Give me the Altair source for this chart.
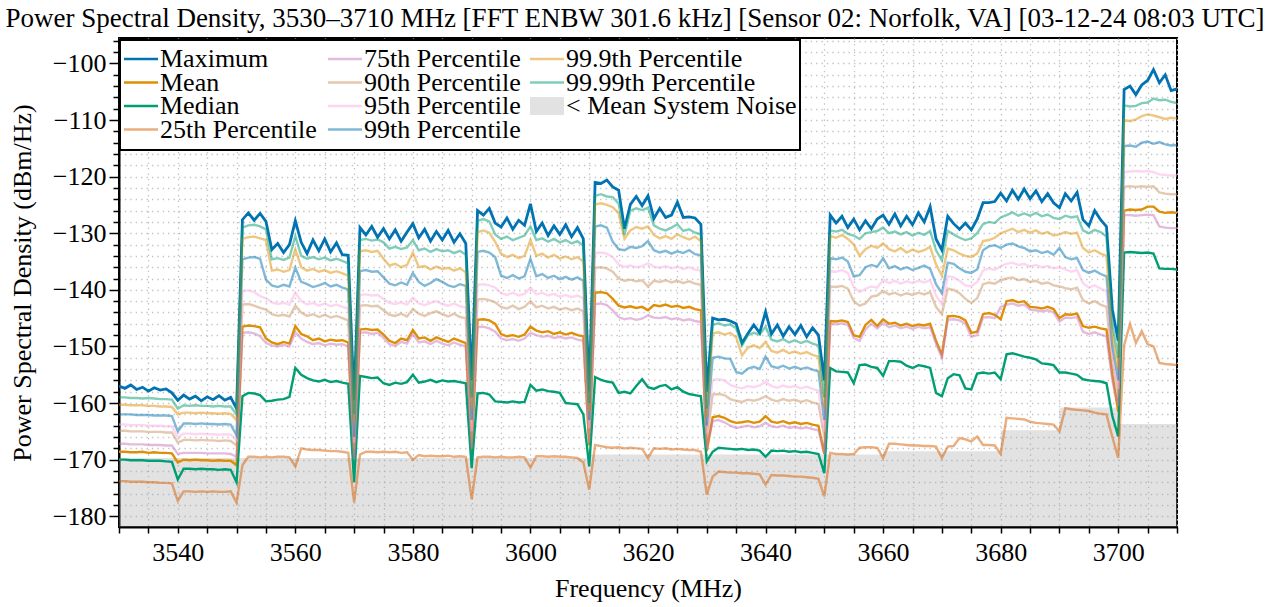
import altair as alt
import pandas as pd

# ---------------------------------------------------------------------------
# Spectrum statistics on a 1 MHz grid, 3530-3710 MHz (dBm/Hz)
# ---------------------------------------------------------------------------
FREQ_START_MHZ = 3530
FREQ_STOP_MHZ = 3710
freq_mhz = list(range(FREQ_START_MHZ, FREQ_STOP_MHZ + 1))

maximum = [
    -157.0, -157.4, -156.8, -157.6, -157.2, -157.9, -157.3, -157.7, -157.5, -158.2,
    -159.5, -158.6, -159.3, -158.8, -159.6, -158.9, -159.4, -158.7, -159.5, -159.0,
    -161.0, -127.6, -126.4, -127.7, -126.5, -127.9, -132.9, -131.8, -133.4, -132.0,
    -127.8, -131.6, -133.6, -131.2, -133.1, -131.0, -133.3, -131.7, -133.8, -133.9,
    -159.5, -129.0, -130.3, -128.8, -130.7, -129.2, -131.0, -129.4, -131.4, -129.8,
    -128.3, -130.8, -129.3, -131.4, -129.7, -131.2, -129.5, -131.6, -130.1, -131.8,
    -156.0, -126.0, -126.8, -125.6, -128.2, -128.9, -127.3, -129.3, -127.7, -128.6,
    -124.8, -129.7, -128.2, -130.4, -128.7, -130.2, -128.5, -130.6, -129.0, -131.0,
    -158.0, -121.0, -121.2, -120.6, -121.8, -122.4, -129.2, -124.9, -123.5, -125.1,
    -123.4, -127.4, -125.6, -127.2, -126.8, -124.5, -127.2, -127.1, -127.3, -128.4,
    -158.0, -145.0, -145.3, -145.2, -145.5, -146.0, -149.4, -147.7, -146.2, -147.6,
    -143.9, -147.8, -146.2, -148.2, -146.5, -147.9, -146.3, -148.3, -146.7, -148.0,
    -156.0, -126.8, -128.2, -127.0, -129.0, -127.5, -129.4, -127.8, -129.2, -127.5,
    -126.8, -128.4, -126.6, -128.7, -127.0, -128.5, -126.4, -128.0, -125.3, -131.0,
    -133.0, -127.0, -128.3, -129.3, -128.2, -129.4, -127.5, -124.6, -124.6, -124.4,
    -122.9, -124.3, -122.4, -124.0, -122.2, -123.9, -122.5, -124.4, -123.0, -124.6,
    -125.5, -123.0, -124.3, -122.8, -127.6, -128.7, -126.0, -127.6, -128.8, -143.5,
    -149.0, -104.6, -104.0, -105.5, -103.8, -103.0, -101.1, -103.4, -102.0, -104.8,
    -104.5,
]

mean = [
    -168.6, -168.6, -168.7, -168.7, -168.6, -168.8, -168.7, -168.8, -168.8, -168.9,
    -170.5, -170.0, -170.1, -170.0, -170.1, -170.1, -170.2, -170.1, -170.2, -170.2,
    -171.0, -146.5, -146.3, -146.4, -146.6, -148.6, -149.3, -149.6, -149.2, -149.5,
    -146.4, -147.8, -148.2, -148.9, -148.6, -149.1, -148.8, -149.0, -148.9, -149.3,
    -171.0, -147.0, -146.9, -147.1, -147.0, -147.9, -149.0, -149.4, -148.6, -148.9,
    -147.1, -148.6, -148.4, -149.0, -148.4, -148.8, -149.2, -148.6, -149.0, -149.4,
    -169.0, -145.3, -145.2, -145.4, -146.0, -147.8, -148.2, -148.0, -148.3, -147.9,
    -146.5, -147.2, -147.5, -147.3, -147.8, -147.5, -147.9, -147.6, -148.0, -148.2,
    -167.5, -140.5, -140.4, -140.6, -141.6, -142.8, -143.1, -142.9, -143.2, -143.0,
    -143.6, -142.7, -142.9, -142.6, -143.0, -142.8, -143.2, -143.0, -143.4, -143.6,
    -168.5, -162.5, -162.3, -162.6, -163.2, -163.5, -163.4, -163.2, -163.5, -163.3,
    -162.3, -163.3, -163.5, -163.2, -163.6, -163.4, -163.7, -163.5, -163.8, -164.0,
    -169.0, -145.5, -145.6, -145.4, -145.7, -148.0, -148.3, -146.2, -145.3, -146.4,
    -145.2, -146.0, -145.8, -146.3, -146.0, -146.4, -146.1, -146.3, -146.0, -149.0,
    -151.5, -144.7, -144.6, -144.8, -145.4, -147.6, -147.4, -144.3, -144.1, -144.4,
    -145.2, -142.0, -141.8, -142.2, -142.0, -143.0, -143.1, -143.3, -143.0, -143.4,
    -145.0, -144.3, -144.4, -144.2, -146.4, -146.7, -146.5, -146.8, -147.0, -155.0,
    -161.5, -126.0, -125.8, -125.9, -125.8, -125.3, -125.3, -126.2, -126.4, -126.3,
    -126.4,
]

median = [
    -170.0, -170.0, -170.1, -170.1, -170.1, -170.2, -170.2, -170.2, -170.3, -170.4,
    -173.5, -171.6, -171.6, -171.7, -171.6, -171.7, -171.7, -171.8, -171.7, -171.8,
    -174.0, -158.8, -158.2, -158.3, -158.6, -159.7, -159.6, -159.4, -159.3, -158.9,
    -153.8, -155.0, -155.6, -156.0, -156.2, -155.9, -156.3, -156.1, -156.4, -156.6,
    -174.0, -155.2, -155.4, -155.6, -155.5, -156.5, -156.8, -156.4, -156.6, -156.3,
    -155.0, -156.4, -156.2, -155.9, -156.3, -156.0, -156.2, -156.1, -156.3, -156.5,
    -171.5, -158.3, -158.2, -158.5, -159.7, -159.8, -159.9, -159.7, -159.9, -159.8,
    -156.8, -157.8, -157.6, -157.9, -158.0, -158.2, -160.0, -160.1, -160.2, -162.0,
    -171.2, -155.4, -155.9, -156.2, -156.4, -158.2, -158.0, -158.3, -157.0, -155.8,
    -157.2, -157.5, -157.0, -156.8, -157.6, -157.2, -158.0, -158.4, -158.6, -158.8,
    -170.3, -168.6, -167.9, -168.0, -168.1, -168.2, -168.1, -168.3, -168.2, -168.4,
    -169.5, -168.4, -168.5, -168.4, -168.6, -168.5, -168.7, -168.6, -168.8, -169.0,
    -172.4, -153.8, -154.4, -154.5, -154.6, -156.5, -153.3, -153.2, -153.6, -153.8,
    -155.2, -152.6, -152.6, -152.7, -153.4, -153.8, -153.3, -153.5, -153.8, -158.2,
    -158.8, -155.6, -154.9, -155.1, -157.4, -157.6, -154.8, -154.6, -154.8, -154.6,
    -155.8, -151.4, -151.2, -151.5, -151.8, -152.0, -152.3, -153.0, -153.1, -153.3,
    -154.6, -154.6, -154.8, -155.0, -155.8, -156.0, -156.1, -156.2, -156.5, -162.3,
    -165.9, -133.4, -133.3, -133.4, -133.5, -133.4, -133.6, -136.2, -136.3, -136.3,
    -136.4,
]

pct_25 = [
    -173.8, -173.8, -173.9, -173.9, -173.9, -174.0, -174.0, -174.1, -174.1, -174.2,
    -177.3, -175.6, -175.6, -175.7, -175.6, -175.7, -175.6, -175.7, -175.7, -175.6,
    -177.6, -171.0, -169.5, -169.5, -169.6, -169.5, -169.6, -169.5, -169.5, -169.6,
    -171.2, -168.0, -168.2, -168.3, -168.3, -168.4, -168.5, -168.5, -168.6, -168.8,
    -177.6, -169.1, -168.6, -168.6, -168.7, -168.6, -168.7, -168.6, -168.8, -168.7,
    -170.0, -169.2, -169.4, -169.3, -169.4, -169.4, -169.3, -169.5, -169.4, -169.5,
    -177.0, -169.6, -169.5, -169.5, -169.6, -169.5, -169.6, -169.6, -169.5, -169.6,
    -171.4, -169.4, -169.4, -169.5, -169.4, -169.5, -169.5, -169.6, -169.7, -170.5,
    -175.3, -167.4, -167.6, -167.8, -167.9, -167.8, -168.0, -167.9, -168.0, -168.1,
    -169.7, -168.0, -168.1, -168.0, -168.2, -168.1, -168.2, -168.3, -168.3, -168.6,
    -176.2, -173.0, -172.1, -172.2, -172.3, -172.3, -172.4, -172.4, -172.5, -172.6,
    -174.4, -172.7, -172.8, -172.8, -172.9, -173.0, -173.0, -173.1, -173.2, -173.4,
    -176.5, -168.8, -169.0, -169.0, -169.1, -169.0, -167.9, -167.8, -167.8, -167.9,
    -169.7, -167.2, -167.2, -167.3, -167.4, -167.5, -167.5, -167.6, -167.6, -167.7,
    -169.7, -167.7, -167.6, -166.2, -166.4, -166.8, -165.9, -167.4, -167.4, -167.5,
    -169.0, -162.6, -162.7, -162.8, -162.9, -163.3, -163.5, -163.6, -163.7, -163.8,
    -165.0, -160.9, -161.1, -161.2, -161.3, -161.4, -161.7, -161.9, -162.0, -166.0,
    -169.7, -149.8, -146.0, -149.4, -147.3, -149.6, -150.0, -152.9, -153.1, -153.2,
    -153.3,
]

pct_75 = [
    -167.2, -167.2, -167.3, -167.3, -167.3, -167.4, -167.4, -167.4, -167.5, -167.5,
    -169.0, -168.8, -168.8, -168.8, -168.8, -168.9, -168.9, -168.9, -168.9, -169.0,
    -169.5, -147.6, -147.5, -147.7, -148.2, -149.4, -149.8, -150.0, -149.7, -150.0,
    -147.5, -148.6, -149.2, -149.6, -149.4, -149.8, -149.5, -149.7, -149.6, -150.0,
    -170.0, -147.6, -147.5, -147.8, -147.6, -148.5, -149.6, -149.9, -149.2, -149.5,
    -147.8, -149.3, -149.1, -149.6, -149.0, -149.5, -149.8, -149.3, -149.7, -150.0,
    -168.0, -146.6, -146.5, -146.8, -147.4, -148.6, -148.9, -148.7, -149.0, -148.6,
    -147.6, -148.0, -148.3, -148.1, -148.5, -148.3, -148.6, -148.4, -148.8, -149.0,
    -167.0, -142.5, -142.4, -142.7, -143.6, -144.8, -145.2, -145.0, -145.3, -145.1,
    -144.5, -144.9, -145.0, -144.8, -145.2, -145.0, -145.4, -145.2, -145.5, -145.7,
    -168.0, -163.2, -163.0, -163.4, -164.0, -164.4, -164.2, -164.0, -164.3, -164.1,
    -163.5, -164.1, -164.3, -164.0, -164.4, -164.2, -164.5, -164.3, -164.6, -164.8,
    -169.0, -146.0, -146.1, -145.9, -146.2, -148.5, -149.0, -147.0, -146.0, -146.8,
    -145.8, -146.6, -146.3, -146.8, -146.5, -146.9, -146.5, -146.8, -146.6, -149.5,
    -152.0, -145.3, -145.2, -145.4, -146.0, -148.3, -148.0, -144.9, -144.8, -145.0,
    -143.0, -142.6, -142.4, -142.8, -142.6, -143.5, -143.6, -143.8, -143.6, -144.0,
    -145.6, -144.9, -145.0, -144.8, -147.4, -147.8, -147.5, -147.9, -148.2, -156.0,
    -160.5, -126.8, -126.8, -126.9, -126.8, -126.7, -126.8, -128.8, -129.0, -129.1,
    -129.1,
]

pct_90 = [
    -164.9, -164.9, -165.0, -165.0, -165.0, -165.1, -165.1, -165.1, -165.2, -165.2,
    -167.0, -166.5, -166.5, -166.6, -166.5, -166.6, -166.6, -166.7, -166.6, -166.7,
    -167.5, -142.6, -142.5, -142.8, -143.2, -143.5, -144.3, -144.6, -144.4, -144.7,
    -142.8, -144.0, -144.6, -144.3, -144.8, -144.4, -144.9, -144.6, -145.0, -145.4,
    -168.0, -142.8, -142.7, -142.9, -142.8, -143.6, -144.4, -144.6, -144.2, -144.7,
    -143.4, -144.2, -144.6, -144.1, -143.8, -144.3, -144.7, -144.2, -144.8, -145.0,
    -166.0, -141.7, -141.6, -141.8, -142.2, -143.0, -143.3, -142.8, -143.4, -143.0,
    -142.0, -143.1, -142.8, -143.3, -143.0, -143.5, -143.2, -143.6, -143.3, -143.8,
    -165.5, -136.1, -136.0, -136.2, -136.8, -138.0, -138.4, -138.2, -138.5, -138.3,
    -139.4, -138.4, -138.6, -138.3, -138.7, -138.4, -138.8, -138.5, -138.9, -139.1,
    -166.5, -158.5, -158.4, -158.6, -159.3, -159.6, -159.8, -159.4, -159.6, -159.3,
    -158.8, -159.4, -159.7, -159.3, -159.6, -159.4, -159.8, -159.5, -159.9, -160.2,
    -166.0, -139.4, -139.5, -139.3, -139.8, -142.0, -142.8, -142.4, -141.2, -141.0,
    -140.2, -140.8, -140.5, -141.0, -140.6, -140.9, -140.5, -140.8, -140.4, -143.0,
    -144.3, -139.8, -140.0, -140.6, -141.6, -142.3, -141.5, -139.0, -138.7, -138.9,
    -138.3, -138.0, -137.8, -138.3, -138.1, -138.6, -138.4, -138.9, -138.7, -139.2,
    -139.4, -139.7, -139.9, -139.6, -141.8, -142.4, -142.0, -142.6, -143.0, -153.0,
    -158.5, -121.8, -121.7, -121.8, -121.7, -121.8, -121.7, -122.8, -123.0, -123.1,
    -123.1,
]

pct_95 = [
    -163.8, -163.8, -163.9, -163.9, -163.9, -164.0, -164.0, -164.0, -164.1, -164.1,
    -166.0, -165.4, -165.4, -165.5, -165.4, -165.5, -165.5, -165.6, -165.5, -165.6,
    -166.5, -140.2, -140.1, -140.4, -141.1, -141.5, -142.2, -142.5, -142.3, -142.6,
    -140.5, -142.0, -142.6, -142.3, -142.8, -142.4, -142.9, -142.6, -143.0, -143.3,
    -167.0, -140.9, -140.8, -141.0, -140.9, -141.6, -142.3, -142.5, -142.2, -142.6,
    -141.4, -142.4, -142.7, -142.3, -142.0, -142.5, -142.8, -142.4, -142.9, -143.1,
    -165.0, -139.1, -139.0, -139.2, -139.6, -140.6, -140.9, -140.5, -141.0, -140.7,
    -139.6, -140.8, -140.5, -141.0, -140.7, -141.2, -140.9, -141.3, -141.0, -141.5,
    -164.5, -133.5, -133.4, -133.6, -134.2, -135.5, -135.9, -135.7, -136.0, -135.8,
    -135.3, -135.9, -136.1, -135.8, -136.2, -135.9, -136.3, -136.0, -136.4, -136.6,
    -165.5, -155.9, -155.8, -156.0, -156.8, -157.2, -157.4, -157.0, -157.2, -156.9,
    -156.2, -157.0, -157.3, -156.9, -157.2, -157.0, -157.4, -157.1, -157.5, -157.8,
    -165.0, -136.6, -136.8, -136.5, -137.0, -139.5, -140.4, -139.8, -139.4, -139.6,
    -138.2, -138.8, -138.4, -138.9, -138.5, -138.8, -138.4, -138.7, -138.3, -141.0,
    -142.6, -137.6, -137.8, -138.4, -139.2, -139.4, -138.6, -136.6, -136.2, -136.5,
    -135.8, -135.4, -135.2, -135.6, -135.4, -135.9, -135.6, -136.0, -135.8, -136.2,
    -136.0, -136.4, -136.8, -136.5, -138.8, -139.6, -139.2, -139.8, -140.2, -151.5,
    -157.5, -119.2, -119.1, -119.0, -119.1, -119.0, -119.2, -119.6, -119.7, -119.8,
    -119.8,
]

pct_99 = [
    -162.0, -162.0, -162.0, -162.1, -162.1, -162.1, -162.2, -162.2, -162.2, -162.3,
    -165.0, -163.6, -163.6, -163.7, -163.6, -163.7, -163.7, -163.8, -163.7, -163.8,
    -165.7, -134.6, -134.3, -134.2, -134.5, -138.2, -139.2, -139.5, -139.1, -139.4,
    -136.1, -138.6, -139.0, -139.5, -139.2, -138.8, -139.4, -139.1, -139.6, -139.9,
    -166.0, -136.7, -136.5, -136.8, -136.7, -137.8, -138.9, -139.2, -138.7, -139.1,
    -137.0, -138.6, -139.3, -138.8, -138.1, -138.6, -139.2, -139.5, -139.0, -139.3,
    -163.0, -133.3, -133.1, -133.4, -134.2, -137.5, -137.9, -137.4, -138.0, -137.6,
    -134.5, -137.6, -137.2, -137.9, -137.5, -138.1, -137.7, -138.2, -137.8, -138.4,
    -163.0, -128.8, -128.6, -129.0, -131.5, -132.8, -133.0, -132.4, -132.6, -132.3,
    -131.4, -133.0, -133.4, -133.1, -133.6, -133.2, -133.5, -133.0, -133.7, -133.9,
    -164.0, -152.0, -151.8, -152.1, -152.2, -154.5, -154.8, -153.9, -153.6, -154.0,
    -151.8, -153.5, -153.8, -153.4, -153.9, -153.6, -154.0, -153.7, -154.1, -154.4,
    -163.0, -134.4, -134.6, -134.3, -135.0, -137.6, -137.4, -136.0, -135.6, -135.9,
    -134.4, -136.2, -135.8, -136.4, -136.0, -136.5, -136.1, -135.7, -136.3, -139.0,
    -140.6, -135.2, -135.4, -136.2, -136.8, -137.0, -136.4, -133.0, -132.3, -132.1,
    -132.6, -132.0, -131.8, -132.3, -132.6, -133.2, -133.0, -133.5, -133.2, -133.8,
    -132.6, -134.2, -134.6, -134.4, -136.5, -137.0, -136.6, -137.2, -137.6, -150.0,
    -156.0, -114.6, -114.5, -114.7, -114.0, -113.8, -114.2, -113.9, -114.3, -114.5,
    -114.4,
]

pct_99_9 = [
    -160.3, -160.3, -160.4, -160.4, -160.4, -160.5, -160.5, -160.6, -160.6, -160.7,
    -162.0, -161.7, -161.7, -161.8, -161.7, -161.8, -161.8, -161.9, -161.8, -161.9,
    -163.0, -131.0, -130.7, -130.6, -130.9, -131.2, -136.6, -136.4, -136.8, -136.5,
    -132.8, -136.0, -136.6, -136.3, -136.8, -136.5, -137.0, -136.7, -137.1, -137.5,
    -163.5, -133.2, -133.0, -133.3, -133.1, -134.5, -135.7, -135.4, -136.0, -135.6,
    -133.4, -136.0, -135.8, -136.4, -135.9, -136.3, -136.1, -136.6, -136.2, -136.9,
    -161.0, -129.8, -129.5, -129.9, -131.5, -133.6, -134.2, -133.8, -134.4, -134.0,
    -131.2, -134.0, -133.6, -134.3, -133.8, -134.5, -134.1, -134.6, -134.2, -135.0,
    -161.5, -124.9, -124.7, -125.0, -125.4, -126.5, -131.0, -129.5, -128.9, -129.2,
    -128.8, -130.3, -130.9, -130.5, -131.0, -130.2, -130.7, -131.1, -130.6, -131.4,
    -162.5, -147.7, -147.5, -147.9, -147.6, -148.4, -151.6, -150.2, -149.8, -150.3,
    -149.2, -150.8, -151.1, -150.6, -151.2, -150.9, -151.3, -151.0, -151.5, -151.8,
    -161.0, -130.5, -130.8, -130.3, -131.0, -132.0, -134.0, -132.8, -132.2, -132.6,
    -131.8, -132.8, -133.2, -132.6, -133.4, -132.9, -133.3, -133.0, -132.4, -135.5,
    -137.5, -132.7, -133.0, -133.6, -134.0, -134.2, -133.6, -131.4, -131.2, -130.8,
    -130.0, -129.6, -129.2, -129.8, -129.4, -129.9, -129.5, -130.1, -129.8, -130.4,
    -130.2, -129.8, -130.1, -129.9, -132.6, -133.4, -133.0, -133.6, -134.0, -148.0,
    -154.0, -110.0, -110.2, -109.9, -109.3, -109.0, -109.2, -109.5, -109.8, -109.6,
    -109.7,
]

pct_99_99 = [
    -159.0, -159.0, -159.1, -159.1, -159.2, -159.1, -159.2, -159.3, -159.3, -159.4,
    -161.0, -160.4, -160.5, -160.4, -160.5, -160.5, -160.6, -160.5, -160.6, -160.6,
    -162.0, -129.0, -128.6, -128.5, -128.8, -129.3, -134.6, -134.4, -134.7, -134.3,
    -130.5, -134.0, -134.5, -134.2, -134.6, -134.3, -134.8, -134.5, -134.9, -135.3,
    -162.0, -131.2, -131.0, -131.3, -131.1, -131.6, -132.7, -132.4, -132.8, -132.5,
    -131.2, -133.0, -132.7, -133.3, -132.8, -133.2, -133.0, -133.5, -133.1, -133.8,
    -159.0, -127.8, -127.5, -127.9, -130.2, -131.0, -130.6, -131.2, -130.8, -130.4,
    -128.8, -131.2, -130.9, -131.5, -131.0, -131.6, -131.2, -131.8, -131.4, -132.2,
    -160.0, -123.4, -123.1, -123.5, -123.6, -124.8, -130.3, -126.0, -125.6, -125.9,
    -125.5, -128.6, -129.2, -129.5, -129.0, -128.4, -129.6, -129.3, -129.9, -130.2,
    -161.0, -146.2, -145.9, -146.3, -146.1, -146.8, -149.8, -148.0, -147.6, -147.9,
    -146.5, -148.8, -149.1, -148.7, -149.3, -148.9, -149.4, -149.0, -149.5, -149.8,
    -159.0, -129.5, -129.7, -129.4, -130.1, -130.4, -131.0, -130.0, -129.8, -129.6,
    -129.0, -130.0, -129.7, -130.2, -129.8, -130.4, -129.9, -130.3, -129.6, -133.0,
    -134.8, -129.6, -130.2, -130.8, -131.2, -130.9, -130.0, -128.4, -128.0, -128.2,
    -127.2, -126.8, -126.3, -126.9, -126.5, -126.9, -126.4, -127.0, -126.7, -127.3,
    -127.5, -126.9, -127.2, -127.0, -129.5, -130.0, -129.4, -129.8, -130.6, -146.0,
    -152.0, -107.4, -107.6, -107.5, -107.0, -106.9, -106.2, -106.5, -106.4, -106.8,
    -107.0,
]

# Mean system noise floor, a step per sub-band (value holds until next edge)
noise_edge_mhz = [3530, 3610, 3660, 3680, 3690, 3700, 3710]
noise_dbm_hz = [-169.7, -169.1, -168.5, -164.8, -160.8, -163.7, -163.7]

# label, values, colour, opacity, width  (plotting order = legend order)
traces = [
    ("Maximum", maximum, "#0173b2", 1.0, 2.8),
    ("Mean", mean, "#de8f05", 1.0, 2.4),
    ("Median", median, "#029e73", 1.0, 2.4),
    ("25th Percentile", pct_25, "#d55e00", 0.5, 2.4),
    ("75th Percentile", pct_75, "#cc78bc", 0.5, 2.4),
    ("90th Percentile", pct_90, "#ca9161", 0.5, 2.4),
    ("95th Percentile", pct_95, "#fbafe4", 0.5, 2.4),
    ("99th Percentile", pct_99, "#0173b2", 0.5, 2.4),
    ("99.9th Percentile", pct_99_9, "#de8f05", 0.5, 2.4),
    ("99.99th Percentile", pct_99_99, "#029e73", 0.5, 2.4),
]
NOISE_LABEL = "< Mean System Noise"
NOISE_FILL = "#9e9e9e"
NOISE_OPACITY = 0.3

Y_MIN, Y_MAX = -181.9, -95.5

for name, vals, *_ in traces:
    assert len(vals) == len(freq_mhz), (name, len(vals))

rows = []
for name, vals, *_ in traces:
    for f, v in zip(freq_mhz, vals):
        rows.append({"trace": name, "freq": f, "psd": v})
spectrum = pd.DataFrame(rows)
noise = pd.DataFrame({"freq": noise_edge_mhz, "psd": noise_dbm_hz,
                      "floor": [Y_MIN] * len(noise_edge_mhz)})

# ---------------------------------------------------------------------------
# Layout / style
# ---------------------------------------------------------------------------
FONT = "Liberation Serif"
FS = 26
W, H = 1058, 489
LEGEND_LINE_W = 2.4

x_scale = alt.Scale(domain=[FREQ_START_MHZ, FREQ_STOP_MHZ], nice=False, zero=False)
y_scale = alt.Scale(domain=[Y_MIN, Y_MAX], nice=False, zero=False)

grid_style = dict(grid=True, gridColor="#c4c4c4", gridDash=[1.4, 4], gridWidth=1.3)
common_axis = dict(
    domainColor="black", domainWidth=2, tickColor="black", tickWidth=1.5,
    labelFont=FONT, labelFontSize=FS, labelColor="black", labelOverlap=False,
    labelFlush=False, labelBound=False,
    titleFont=FONT, titleFontSize=FS, titleFontWeight="normal", titleColor="black",
    **grid_style,
)

x_axis = alt.Axis(
    values=list(range(3530, 3711, 5)),
    labelExpr="datum.value % 20 === 0 ? format(datum.value, 'd') : ''",
    tickSize=6, labelPadding=6, title="Frequency (MHz)", titlePadding=10,
    **common_axis,
)
y_axis = alt.Axis(
    values=list(range(-180, -95, 2)),
    labelExpr="datum.value % 10 === 0 ? format(datum.value, 'd') : ''",
    tickSize={"condition": {"test": "datum.value % 10 === 0", "value": 10}, "value": 6},
    labelPadding=3, title="Power Spectral Density (dBm/Hz)", titlePadding=17,
    **common_axis,
)

X = alt.X("freq:Q", scale=x_scale, axis=x_axis)
Y = alt.Y("psd:Q", scale=y_scale, axis=y_axis)

noise_layer = alt.Chart(noise).mark_area(
    interpolate="step-after", color=NOISE_FILL, opacity=NOISE_OPACITY, clip=True
).encode(x=X, y=Y, y2=alt.Y2("floor:Q"))

line_layers = [
    alt.Chart(spectrum)
    .transform_filter(alt.datum.trace == name)
    .mark_line(color=color, opacity=alpha, strokeWidth=width, clip=True)
    .encode(x=X, y=Y)
    for name, _, color, alpha, width in traces
]

# ---------------------------------------------------------------------------
# Legend (three columns, filled top-to-bottom), drawn inside the plot frame
# ---------------------------------------------------------------------------
anchor = pd.DataFrame({"k": [0]})
LEG_BOX = (1, 681, 2, 112)
LEG_COL_X = [5, 209, 411]
LEG_ROW_Y0, LEG_ROW_DY = 21, 23.5
LEG_HANDLE = 34
LEG_ROWS = 4

legend_layers = [
    alt.Chart(anchor).mark_rect(fill="white", stroke="black", strokeWidth=2).encode(
        x=alt.value(LEG_BOX[0]), x2=alt.value(LEG_BOX[1]),
        y=alt.value(LEG_BOX[2]), y2=alt.value(LEG_BOX[3]),
    )
]
entries = [(name, color, alpha) for name, _, color, alpha, _ in traces] + [(NOISE_LABEL, None, None)]
for i, (name, color, alpha) in enumerate(entries):
    col, row = divmod(i, LEG_ROWS)
    x0 = LEG_COL_X[col]
    y0 = LEG_ROW_Y0 + row * LEG_ROW_DY
    if color is None:
        legend_layers.append(
            alt.Chart(anchor).mark_rect(color=NOISE_FILL, opacity=NOISE_OPACITY).encode(
                x=alt.value(x0), x2=alt.value(x0 + LEG_HANDLE),
                y=alt.value(y0 - 9), y2=alt.value(y0 + 9),
            )
        )
    else:
        legend_layers.append(
            alt.Chart(anchor).mark_rule(color=color, opacity=alpha, strokeWidth=LEGEND_LINE_W).encode(
                x=alt.value(x0), x2=alt.value(x0 + LEG_HANDLE), y=alt.value(y0)
            )
        )
    legend_layers.append(
        alt.Chart(anchor).mark_text(
            text=name, align="left", baseline="middle", font=FONT, fontSize=FS, color="black"
        ).encode(x=alt.value(x0 + LEG_HANDLE + 2), y=alt.value(y0))
    )

title = alt.Title(
    "Power Spectral Density, 3530\u20133710 MHz [FFT ENBW 301.6 kHz] "
    "[Sensor 02: Norfolk, VA] [03-12-24 08:03 UTC]",
    font=FONT, fontSize=27, fontWeight="normal", color="black",
    anchor="middle", frame="group", offset=8, dx=-13, dy=13,
)

chart = (
    alt.layer(noise_layer, *line_layers, *legend_layers)
    .properties(
        width=W, height=H, title=title,
        padding={"left": 119, "top": 38, "right": 1271 - 119 - W, "bottom": 607 - 38 - H},
        autosize=alt.AutoSizeParams(type="none"),
    )
    .configure_view(stroke="black", strokeWidth=2)
)

chart.save("out.html", embed_options={"renderer": "svg", "actions": False})
